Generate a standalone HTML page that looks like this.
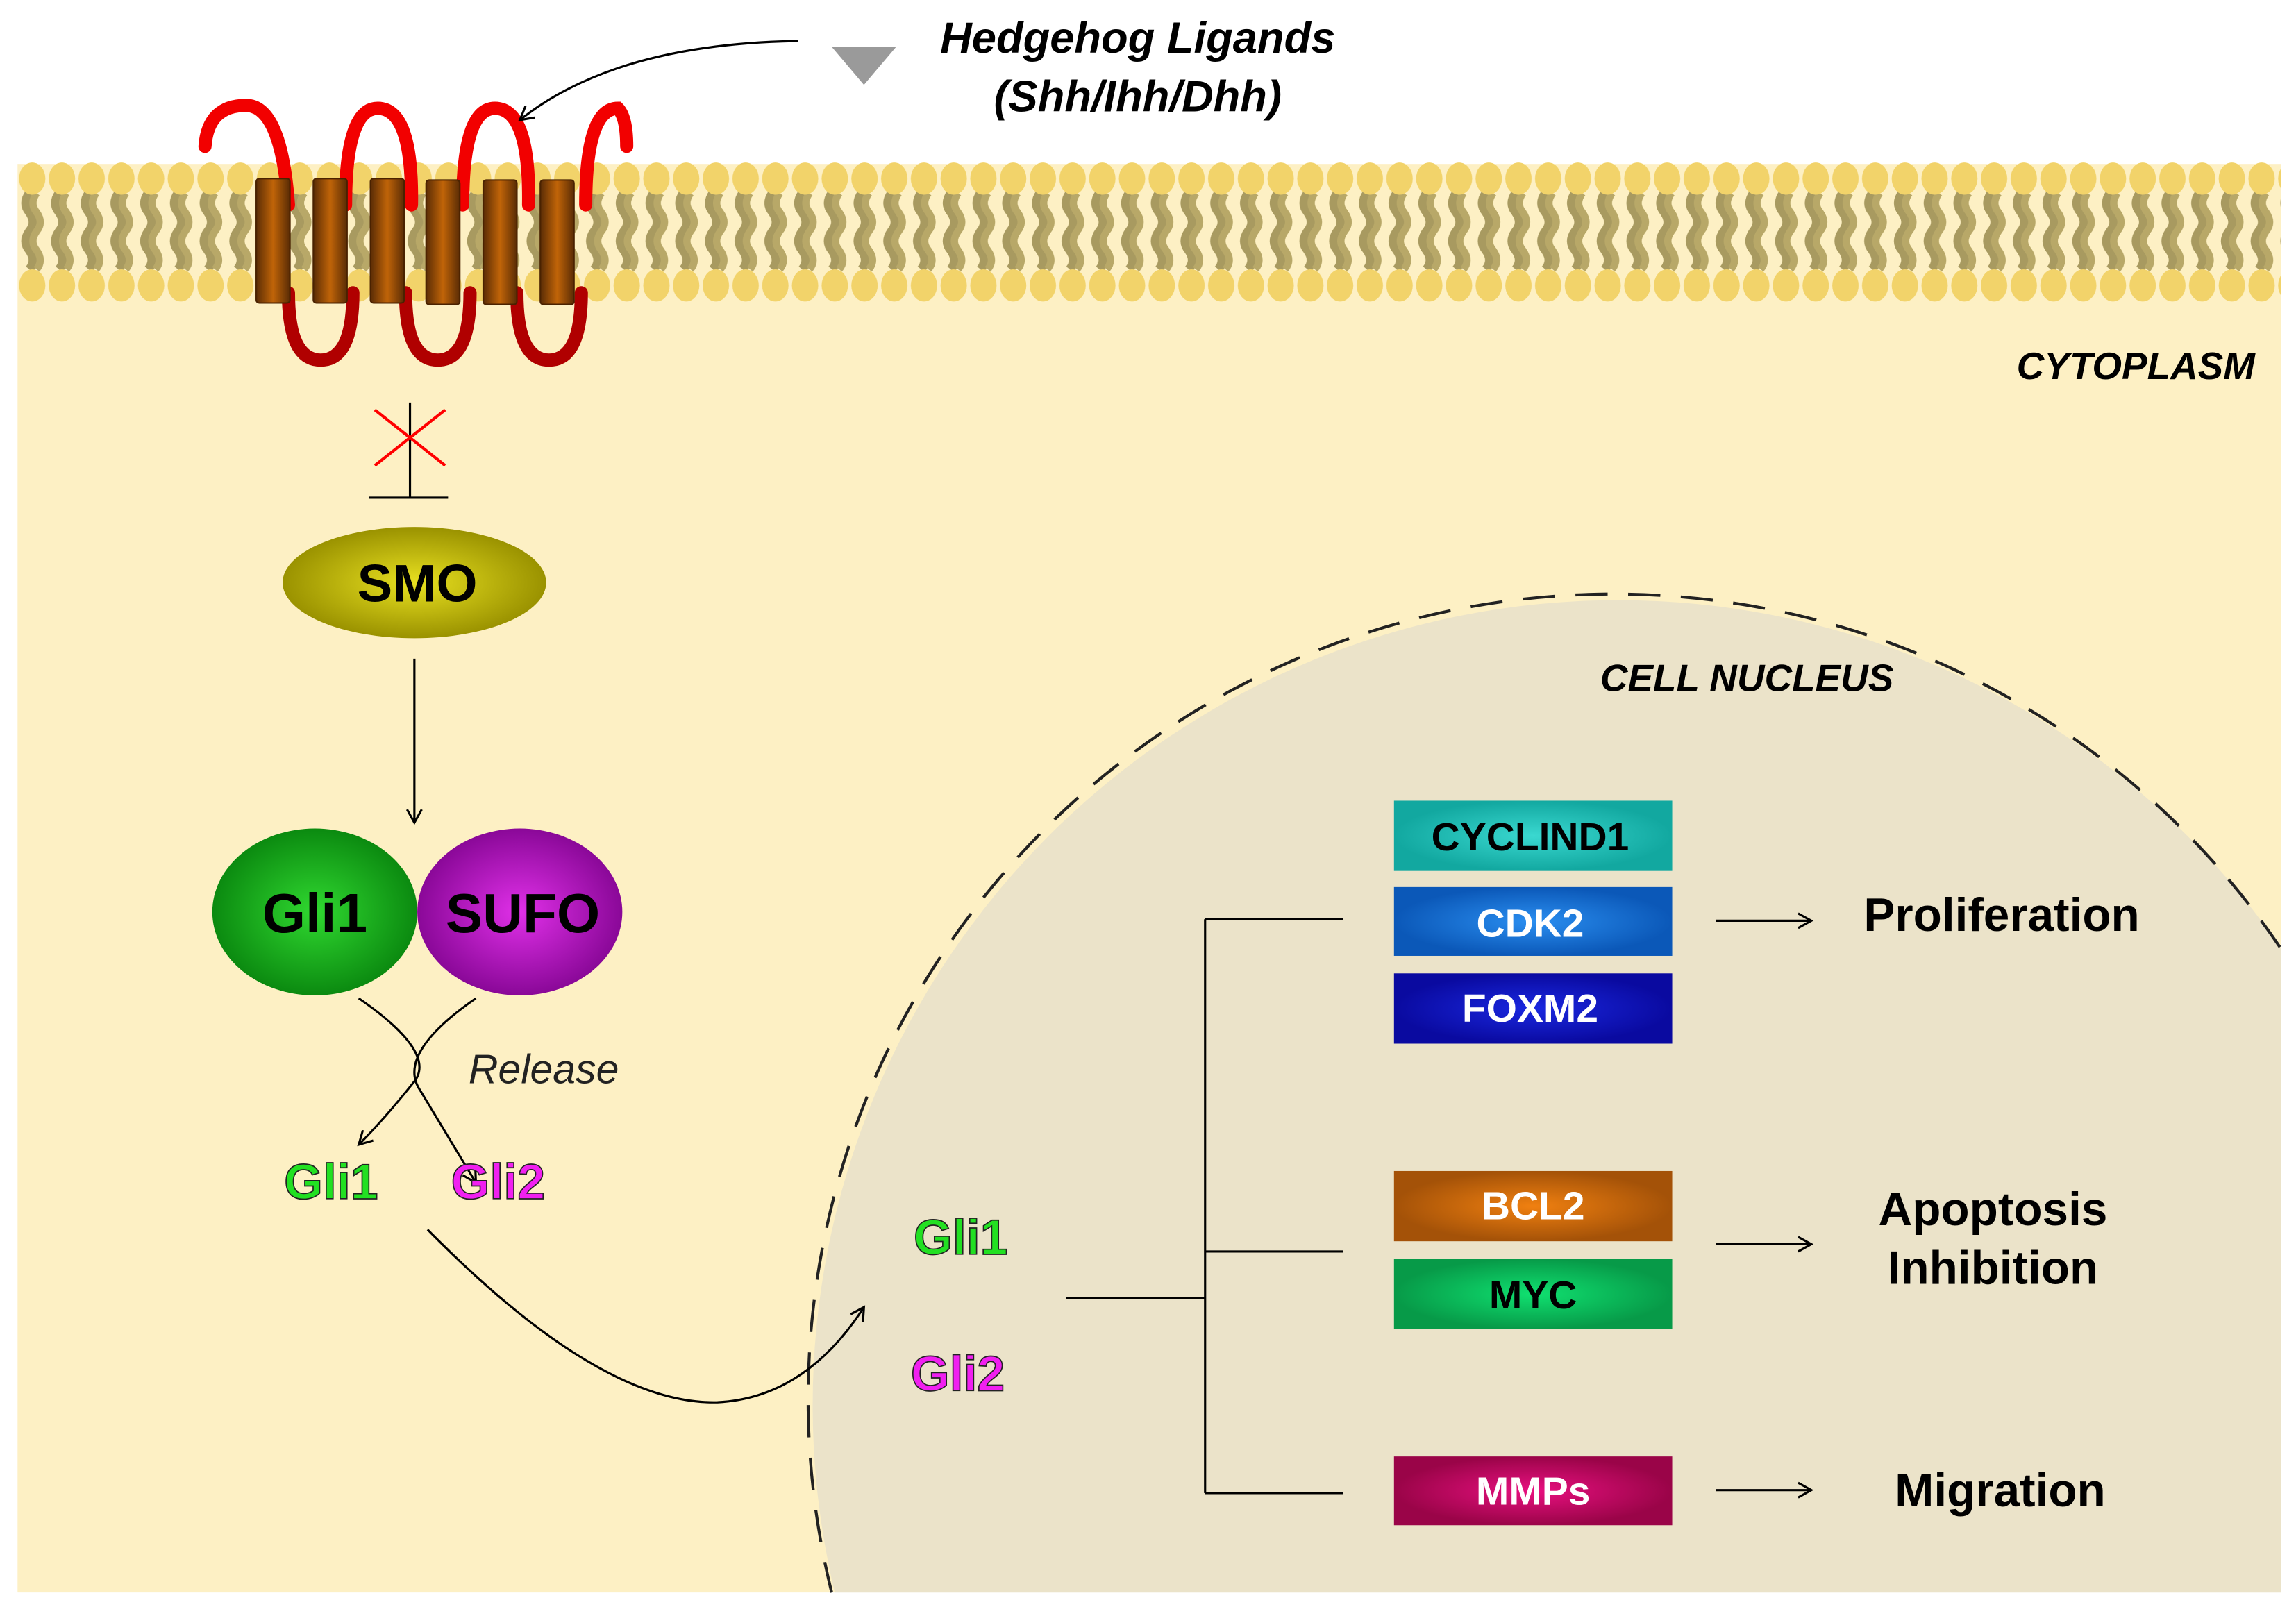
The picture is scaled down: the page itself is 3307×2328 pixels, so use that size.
<!DOCTYPE html>
<html><head><meta charset="utf-8"><style>
html,body{margin:0;padding:0;background:#fff;overflow:hidden;width:3307px;height:2328px;}
svg{display:block;}
text{font-family:"Liberation Sans",sans-serif;}
</style></head><body>
<svg width="3307" height="2328" viewBox="0 0 1568 1104" preserveAspectRatio="none" xmlns="http://www.w3.org/2000/svg">
<defs>
<pattern id="mem" x="12" y="0" width="20.3" height="1104" patternUnits="userSpaceOnUse">
<path d="M8 132 q-5 7 0 13 q5 7 0 13 q-5 7 0 13 q5 7 0 13" stroke="#a89a60" stroke-width="6" fill="none"/>
<path d="M13 132 q-5 7 0 13 q5 7 0 13 q-5 7 0 13 q5 7 0 13" stroke="#b8a868" stroke-width="5" fill="none"/>
<ellipse cx="10" cy="122" rx="9" ry="11" fill="#f2d36a"/>
<ellipse cx="10" cy="195" rx="9" ry="11" fill="#f2d36a"/>
</pattern>
<linearGradient id="tm" x1="0" x2="1"><stop offset="0" stop-color="#5a2c05"/><stop offset="0.5" stop-color="#c06408"/><stop offset="1" stop-color="#5a2c05"/></linearGradient>
<radialGradient id="smo"><stop offset="0" stop-color="#e8e020"/><stop offset="1" stop-color="#9a9200"/></radialGradient>
<radialGradient id="gli"><stop offset="0" stop-color="#30d830"/><stop offset="1" stop-color="#0b8a10"/></radialGradient>
<radialGradient id="sufo"><stop offset="0" stop-color="#e030e8"/><stop offset="1" stop-color="#8a0898"/></radialGradient>
<radialGradient id="b1"><stop offset="0" stop-color="#3ad8d0"/><stop offset="1" stop-color="#12a8a0"/></radialGradient>
<radialGradient id="b2"><stop offset="0" stop-color="#2a8ef0"/><stop offset="1" stop-color="#0b58b8"/></radialGradient>
<radialGradient id="b3"><stop offset="0" stop-color="#1a28e0"/><stop offset="1" stop-color="#0a0aa0"/></radialGradient>
<radialGradient id="b4"><stop offset="0" stop-color="#f08010"/><stop offset="1" stop-color="#a45208"/></radialGradient>
<radialGradient id="b5"><stop offset="0" stop-color="#10e070"/><stop offset="1" stop-color="#079a48"/></radialGradient>
<radialGradient id="b6"><stop offset="0" stop-color="#e81080"/><stop offset="1" stop-color="#9a0448"/></radialGradient>
<marker id="ah" markerWidth="12" markerHeight="12" refX="10" refY="6" orient="auto" markerUnits="userSpaceOnUse"><path d="M1 1 L10 6 L1 11" fill="none" stroke="#000" stroke-width="1.5"/></marker>
</defs>
<rect x="12" y="112" width="1546" height="976" fill="#fdf0c4"/>
<rect x="12" y="110" width="1546" height="97" fill="url(#mem)"/>
<circle cx="1105" cy="960" r="550" fill="#ebe3c9"/>
<rect x="0" y="1088" width="1568" height="20" fill="#fff"/>
<rect x="1558" y="100" width="20" height="1010" fill="#fff"/>
<path d="M1557 647 A550 550 0 0 0 568 1088" fill="none" stroke="#222" stroke-width="2" stroke-dasharray="22 14"/>
<g fill="none" stroke-width="9" stroke-linecap="round">
<path d="M140 100 Q142 72 168 72 Q192 72 197 140" stroke="#f20000"/>
<path d="M236 140 Q236 74 258 74 Q282 74 281 140" stroke="#f20000"/>
<path d="M316 140 Q316 74 338 74 Q362 74 361 140" stroke="#f20000"/>
<path d="M400 140 Q400 74 422 74 Q428 80 428 100" stroke="#f20000"/>
<path d="M197 200 Q197 246 219 246 Q241 246 241 200" stroke="#b00000"/>
<path d="M277 200 Q277 246 299 246 Q321 246 321 200" stroke="#b00000"/>
<path d="M353 200 Q353 246 375 246 Q397 246 397 200" stroke="#b00000"/>
</g>
<g fill="url(#tm)" stroke="#4a2200" stroke-width="1">
<rect x="175" y="122" width="23" height="85" rx="2"/>
<rect x="214" y="122" width="23" height="85" rx="2"/>
<rect x="253" y="122" width="23" height="85" rx="2"/>
<rect x="291" y="123" width="23" height="85" rx="2"/>
<rect x="330" y="123" width="23" height="85" rx="2"/>
<rect x="369" y="123" width="23" height="85" rx="2"/>
</g>
<path d="M545 28 Q420 30 355 82" fill="none" stroke="#000" stroke-width="1.5" marker-end="url(#ah)"/>
<polygon points="568,32 612,32 590,58" fill="#9a9a9a"/>
<text x="777" y="36" font-size="30" font-weight="bold" font-style="italic" text-anchor="middle">Hedgehog Ligands</text>
<text x="777" y="76" font-size="30" font-weight="bold" font-style="italic" text-anchor="middle">(Shh/Ihh/Dhh)</text>
<text x="1540" y="259" font-size="26" font-weight="bold" font-style="italic" text-anchor="end">CYTOPLASM</text>
<text x="1193" y="472" font-size="26" font-weight="bold" font-style="italic" text-anchor="middle">CELL NUCLEUS</text>
<line x1="280" y1="275" x2="280" y2="340" stroke="#000" stroke-width="1.5"/>
<line x1="252" y1="340" x2="306" y2="340" stroke="#000" stroke-width="1.5"/>
<line x1="256" y1="280" x2="304" y2="318" stroke="#f00" stroke-width="2"/>
<line x1="304" y1="280" x2="256" y2="318" stroke="#f00" stroke-width="2"/>
<ellipse cx="283" cy="398" rx="90" ry="38" fill="url(#smo)"/>
<text x="285" y="411" font-size="36" font-weight="bold" text-anchor="middle">SMO</text>
<line x1="283" y1="450" x2="283" y2="562" stroke="#000" stroke-width="1.5" marker-end="url(#ah)"/>
<ellipse cx="215" cy="623" rx="70" ry="57" fill="url(#gli)"/>
<ellipse cx="355" cy="623" rx="70" ry="57" fill="url(#sufo)"/>
<text x="215" y="637" font-size="38" font-weight="bold" text-anchor="middle">Gli1</text>
<text x="357" y="637" font-size="38" font-weight="bold" text-anchor="middle">SUFO</text>
<path d="M245 682 Q300 720 282 740 Q262 765 245 782" fill="none" stroke="#000" stroke-width="1.5" marker-end="url(#ah)"/>
<path d="M325 682 Q270 720 287 745 Q305 775 325 808" fill="none" stroke="#000" stroke-width="1.5" marker-end="url(#ah)"/>
<text x="320" y="740" font-size="28" font-style="italic" fill="#222">Release</text>
<g font-size="34" font-weight="bold" stroke="#222" stroke-width="0.8">
<text x="194" y="819" fill="#22e022">Gli1</text>
<text x="308" y="819" fill="#f020f0">Gli2</text>
<text x="624" y="857" fill="#22e022">Gli1</text>
<text x="622" y="950" fill="#f020f0">Gli2</text>
</g>
<path d="M292 840 Q410 960 490 958 Q550 955 590 893" fill="none" stroke="#000" stroke-width="1.5" marker-end="url(#ah)"/>
<g stroke="#000" stroke-width="1.5" fill="none">
<line x1="728" y1="887" x2="823" y2="887"/>
<line x1="823" y1="628" x2="823" y2="1020"/>
<line x1="823" y1="628" x2="917" y2="628"/>
<line x1="823" y1="855" x2="917" y2="855"/>
<line x1="823" y1="1020" x2="917" y2="1020"/>
<line x1="1172" y1="629" x2="1237" y2="629" marker-end="url(#ah)"/>
<line x1="1172" y1="850" x2="1237" y2="850" marker-end="url(#ah)"/>
<line x1="1172" y1="1018" x2="1237" y2="1018" marker-end="url(#ah)"/>
</g>
<rect x="952" y="547" width="190" height="48" fill="url(#b1)"/>
<rect x="952" y="606" width="190" height="47" fill="url(#b2)"/>
<rect x="952" y="665" width="190" height="48" fill="url(#b3)"/>
<rect x="952" y="800" width="190" height="48" fill="url(#b4)"/>
<rect x="952" y="860" width="190" height="48" fill="url(#b5)"/>
<rect x="952" y="995" width="190" height="47" fill="url(#b6)"/>
<g font-size="27" font-weight="bold" text-anchor="middle">
<text x="1045" y="581">CYCLIND1</text>
<text x="1045" y="640" fill="#fff">CDK2</text>
<text x="1045" y="698" fill="#fff">FOXM2</text>
<text x="1047" y="833" fill="#fff">BCL2</text>
<text x="1047" y="894">MYC</text>
<text x="1047" y="1028" fill="#fff">MMPs</text>
</g>
<g font-size="32" font-weight="bold" text-anchor="middle">
<text x="1367" y="636">Proliferation</text>
<text x="1361" y="837">Apoptosis</text>
<text x="1361" y="877">Inhibition</text>
<text x="1366" y="1029">Migration</text>
</g>
</svg>
</body></html>
